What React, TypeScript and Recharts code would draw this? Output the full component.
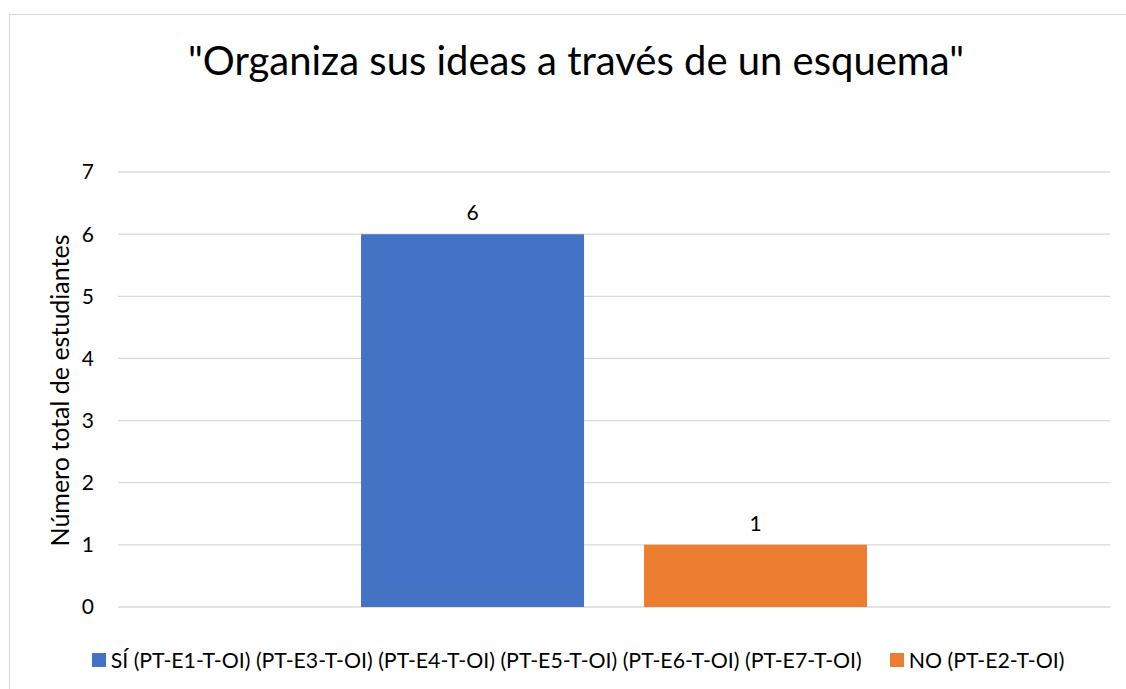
import { BarChart, Bar, XAxis, YAxis, CartesianGrid, LabelList } from "recharts"

// values
const categories = ["Organiza sus ideas a través de un esquema"]
const siValues = [6]
const noValues = [1]
const seriesNames = [
  "SÍ (PT-E1-T-OI) (PT-E3-T-OI) (PT-E4-T-OI) (PT-E5-T-OI) (PT-E6-T-OI) (PT-E7-T-OI)",
  "NO (PT-E2-T-OI)",
]
const seriesColors = ["#4472C4", "#ED7D31"]
const yTicks = [0, 1, 2, 3, 4, 5, 6, 7]

const data = categories.map((c, i) => ({ category: c, si: siValues[i], no: noValues[i] }))

const FONT = "Lato, 'Open Sans', sans-serif"

export default function App() {
  return (
    <div style={{ position: "absolute", left: 0, top: 0, width: 1126, height: 689, background: "#fff", overflow: "hidden" }}>
      {/* chart frame */}
      <div
        style={{
          position: "absolute",
          left: 9,
          top: 14,
          width: 1130,
          height: 700,
          border: "1px solid #d9d9d9",
        }}
      />
      <div
        style={{
          position: "absolute",
          left: 0,
          top: 36,
          width: 1152,
          textAlign: "center",
          fontFamily: FONT,
          fontSize: 40,
          color: "#000",
        }}
      >
        "{categories[0]}"
      </div>
      <div style={{ position: "absolute", left: 0, top: 0 }}>
        <BarChart
          width={1126}
          height={689}
          data={data}
          margin={{ top: 172, right: 16, bottom: 82, left: 0 }}
          barCategoryGap="24.5%"
          barGap={60}
        >
          <CartesianGrid vertical={false} stroke="#d9d9d9" strokeWidth={1.3} />
          <XAxis dataKey="category" hide />
          <YAxis
            width={118}
            domain={[0, 7]}
            ticks={yTicks}
            axisLine={false}
            tickLine={false}
            tickMargin={18}
            tick={{ fill: "#000", fontSize: 21, fontFamily: FONT }}
            label={{
              value: "Número total de estudiantes",
              angle: -90,
              position: "center",
              dx: 1,
              dy: 1,
              fill: "#000",
              fontSize: 25,
              fontFamily: FONT,
            }}
          />
          <Bar dataKey="si" name={seriesNames[0]} fill={seriesColors[0]} isAnimationActive={false}>
            <LabelList dataKey="si" position="top" offset={14} fill="#000" fontSize={21} fontFamily={FONT} />
          </Bar>
          <Bar dataKey="no" name={seriesNames[1]} fill={seriesColors[1]} isAnimationActive={false}>
            <LabelList dataKey="no" position="top" offset={14} fill="#000" fontSize={21} fontFamily={FONT} />
          </Bar>
        </BarChart>
      </div>
      {/* legend */}
      <div
        style={{
          position: "absolute",
          left: 0,
          top: 647,
          width: 1156,
          display: "flex",
          justifyContent: "center",
          gap: 28,
          fontFamily: FONT,
          fontSize: 21.3,
          color: "#000",
        }}
      >
        {seriesNames.map((n, i) => (
          <div key={n} style={{ display: "flex", alignItems: "center" }}>
            <span style={{ width: 14, height: 14, background: seriesColors[i], marginRight: 5, display: "inline-block" }} />
            <span>{n}</span>
          </div>
        ))}
      </div>
    </div>
  )
}
